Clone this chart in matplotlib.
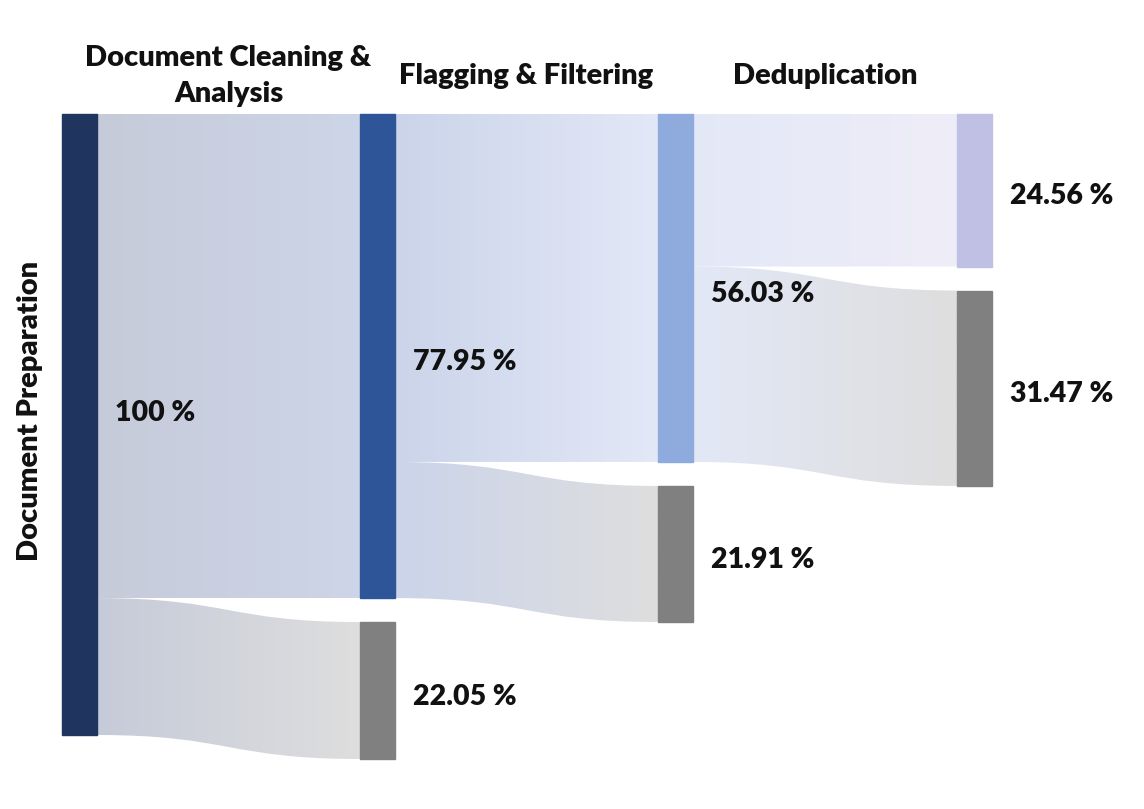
import matplotlib
matplotlib.use("Agg")
import matplotlib.pyplot as plt
import numpy as np
from matplotlib.path import Path
from matplotlib.patches import PathPatch, Rectangle
from matplotlib.colors import to_rgb

# data: share of documents kept after each stage, and removed at each stage (%)
stages = ["Document Preparation", "Document Cleaning &\nAnalysis", "Flagging & Filtering", "Deduplication"]
kept = [100, 77.95, 56.03, 24.56]
removed = [22.05, 21.91, 31.47]
kept_labels = ["100 %", "77.95 %", "56.03 %", "24.56 %"]
removed_labels = ["22.05 %", "21.91 %", "31.47 %"]

node_colors = ["#1f3560", "#2e5597", "#8faadc", "#c0c0e4"]
removed_color = "#808080"
flow_left = ["#c6cbd9", "#cbd4ea", "#e3e8f7"]
flow_right = ["#cdd5e8", "#e3e8f7", "#efedf8"]
removed_right = "#dedede"

plt.rcParams["font.family"] = ["Lato", "DejaVu Sans"]
W = "heavy"

fig = plt.figure(figsize=(11.44, 8.09), dpi=100)
ax = fig.add_axes([0, 0, 1, 1])
ax.set_xlim(0, 1144)
ax.set_ylim(809, 0)
ax.axis("off")

col_x = [62, 360, 658, 957]
node_w = 35
top = 114
scale = 6.21  # px per percent
gap = 24


def flow(x0, x1, s0, s1, t0, t1, c0, c1):
    xm = (x0 + x1) / 2
    verts = [(x0, s0), (xm, s0), (xm, t0), (x1, t0),
             (x1, t1), (xm, t1), (xm, s1), (x0, s1), (x0, s0)]
    codes = [Path.MOVETO, Path.CURVE4, Path.CURVE4, Path.CURVE4,
             Path.LINETO, Path.CURVE4, Path.CURVE4, Path.CURVE4, Path.CLOSEPOLY]
    patch = PathPatch(Path(verts, codes), facecolor="none", edgecolor="none")
    ax.add_patch(patch)
    n = 256
    a, b = np.array(to_rgb(c0)), np.array(to_rgb(c1))
    grad = a[None, :] + (b - a)[None, :] * np.linspace(0, 1, n)[:, None]
    im = ax.imshow(grad[None, :, :], extent=[x0, x1, max(s1, t1), min(s0, t0)],
                   aspect="auto", interpolation="bilinear", zorder=1)
    im.set_clip_path(patch)


for i in range(3):
    xs = col_x[i] + node_w
    xt = col_x[i + 1]
    k_end = top + kept[i + 1] * scale
    src_end = top + kept[i] * scale
    r0 = k_end + gap
    r1 = r0 + removed[i] * scale
    flow(xs, xt, top, k_end, top, k_end, flow_left[i], flow_right[i])
    flow(xs, xt, k_end, src_end, r0, r1, flow_left[i], removed_right)
    ax.add_patch(Rectangle((xt, r0), node_w, r1 - r0, color=removed_color, zorder=3))
    ax.text(xt + node_w + 18, (r0 + r1) / 2 + 6, removed_labels[i], fontsize=20.5,
            fontweight=W, va="center", ha="left", color="#111111", zorder=4)

for i in range(4):
    h = kept[i] * scale
    ax.add_patch(Rectangle((col_x[i], top), node_w, h, color=node_colors[i], zorder=3))
    dy = -12 if i == 0 else 6
    ax.text(col_x[i] + node_w + 18, top + h / 2 + dy, kept_labels[i], fontsize=20.5,
            fontweight=W, va="center", ha="left", color="#111111", zorder=4)

ax.text(30, 411, stages[0], rotation=90, fontsize=21, fontweight=W,
        ha="center", va="center", color="#111111")
for i in range(1, 4):
    cx = (col_x[i - 1] + node_w + col_x[i]) / 2
    ax.text(cx, 76, stages[i], fontsize=21, fontweight=W, ha="center",
            va="center", linespacing=1.45, color="#111111")

fig.savefig("out.png", dpi=100)
